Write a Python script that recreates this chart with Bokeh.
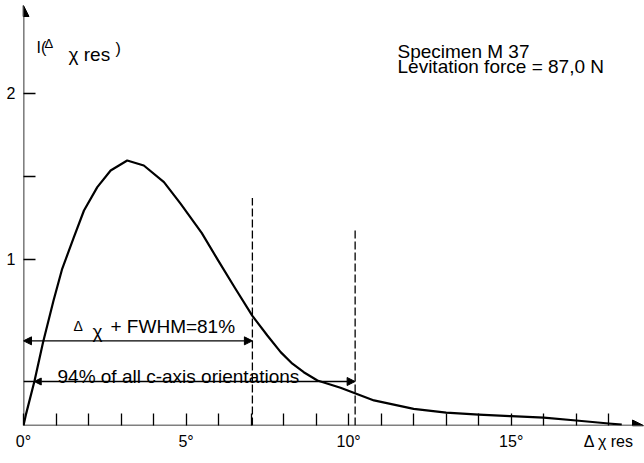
from bokeh.plotting import figure
from bokeh.models import (ColumnDataSource, FixedTicker, Label, Arrow,
                          NormalHead)
from bokeh.embed import file_html
from bokeh.resources import INLINE

# ---- data ----
angle = [0.0, 0.08, 0.34, 0.6, 0.92, 1.19, 1.55, 1.86, 2.27, 2.68, 3.19,
         3.70, 4.32, 4.83, 5.48, 6.0, 6.5, 7.04, 7.5, 7.91, 8.27, 8.62,
         9.04, 9.75, 10.78, 12.0, 13.0, 14.0, 15.0, 16.0, 17.0, 18.0, 18.4]
intensity = [0.0, 0.07, 0.27, 0.5, 0.75, 0.944, 1.134, 1.295, 1.436, 1.536,
             1.596, 1.566, 1.466, 1.336, 1.16, 0.99, 0.83, 0.66, 0.542,
             0.442, 0.372, 0.321, 0.271, 0.227, 0.151, 0.10, 0.078, 0.066,
             0.056, 0.048, 0.03, 0.012, 0.005]
marker_x = [7.04, 10.2]          # dashed limits
marker_top = [1.37, 1.19]
fwhm_level = 0.51
pct94_level = 0.265
pct94_start = 0.33
x_ticks = list(range(0, 19))
x_tick_labels = {0: "0°", 5: "5°", 10: "10°", 15: "15°", 18: "Δ χ res"}
y_ticks = [1, 1.5, 2]
y_tick_labels = {1: "1", 1.5: "", 2: "2"}

FONT = "Liberation Sans"
X0, X1 = 0.0, 19.1
Y0, Y1 = 0.0, 2.56
LEFT, BOTTOM, W, H = 23, 38, 644, 463
FW, FH = W - LEFT, H - BOTTOM


def dx(px):
    return X0 + (px - LEFT) / FW * (X1 - X0)


def dy(py):
    return Y0 + (FH - py) / FH * (Y1 - Y0)


p = figure(width=W, height=H, x_range=(X0, X1), y_range=(Y0, Y1),
           output_backend="svg", toolbar_location=None,
           min_border_left=LEFT, min_border_bottom=BOTTOM,
           min_border_top=0, min_border_right=0)
p.outline_line_color = None
p.grid.visible = False
p.background_fill_color = "white"
p.border_fill_color = "white"

for ax in (p.xaxis[0], p.yaxis[0]):
    ax.axis_line_color = None
    ax.major_tick_in = 12
    ax.major_tick_out = 0
    ax.minor_tick_line_color = None
    ax.major_tick_line_color = "black"
    ax.major_tick_line_width = 1.3
    ax.major_label_text_font = FONT
    ax.major_label_text_font_size = "16px"
    ax.major_label_text_color = "black"

p.xaxis.ticker = FixedTicker(ticks=x_ticks)
p.xaxis.major_label_overrides = {t: x_tick_labels.get(t, "") for t in x_ticks}
p.xaxis.major_label_standoff = 7
p.yaxis.ticker = FixedTicker(ticks=y_ticks)
p.yaxis.major_label_overrides = y_tick_labels
p.yaxis.major_label_standoff = 8

# axes with arrow heads
p.add_layout(Arrow(x_start=0, y_start=0, x_end=dx(643), y_end=0,
                   line_width=1.6, line_color="black",
                   end=NormalHead(size=11, fill_color="black",
                                  line_color="black")))
p.add_layout(Arrow(x_start=0, y_start=0, x_end=0, y_end=dy(5),
                   line_width=1.6, line_color="black",
                   end=NormalHead(size=11, fill_color="black",
                                  line_color="black")))

# curve
src = ColumnDataSource(dict(x=angle, y=intensity))
p.line("x", "y", source=src, line_color="black", line_width=2.2,
       line_join="round")

# dashed limits
p.segment(x0=marker_x, y0=[0] * len(marker_x), x1=marker_x, y1=marker_top,
          line_color="black", line_width=1.3, line_dash="8 3")

# FWHM arrow
p.add_layout(Arrow(x_start=0, y_start=fwhm_level, x_end=marker_x[0],
                   y_end=fwhm_level, line_width=1.3, line_color="black",
                   start=NormalHead(size=8, fill_color="black"),
                   end=NormalHead(size=8, fill_color="black")))
# 94 % arrow
p.segment(x0=[0], y0=[pct94_level], x1=[pct94_start], y1=[pct94_level],
          line_color="black", line_width=1.3)
p.add_layout(Arrow(x_start=pct94_start, y_start=pct94_level,
                   x_end=marker_x[1], y_end=pct94_level, line_width=1.3,
                   line_color="black",
                   start=NormalHead(size=7, fill_color="black"),
                   end=NormalHead(size=8, fill_color="black")))


def lab(text, px, py, size):
    p.add_layout(Label(x=dx(px), y=dy(py), text=text, text_font=FONT,
                       text_font_size=f"{size}px", text_color="black",
                       text_baseline="alphabetic", text_align="left"))


# y axis label
lab("I(", 36, 47, 16)
lab("Δ", 44, 43, 13)
lab("χ res", 68, 54, 19)
lab(")", 115, 48, 16)

# specimen info
lab("Specimen M 37", 397, 51, 19)
lab("Levitation force = 87,0 N", 397, 66, 19)

# annotations
lab("Δ", 73, 325, 14)
lab("χ", 92, 331, 19)
lab("+ FWHM=81%", 110, 326, 19)
lab("94% of all c-axis orientations", 57, 376, 19)

open("out.html", "w").write(file_html(p, INLINE))
